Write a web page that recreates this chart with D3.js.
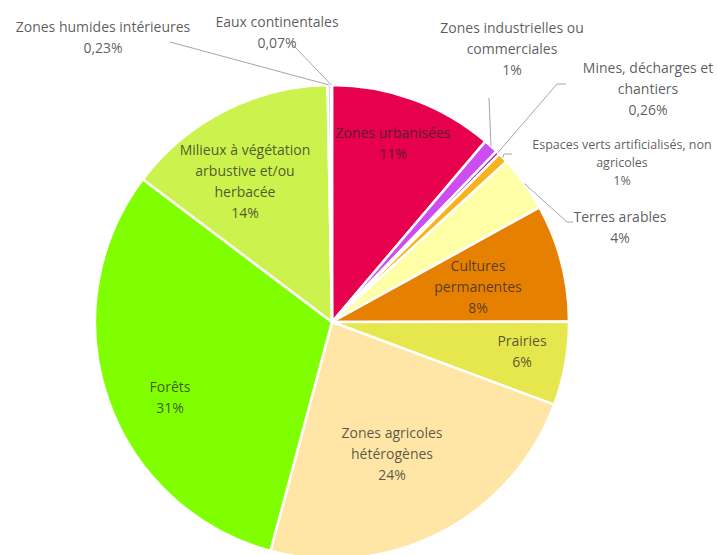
<!DOCTYPE html>
<html>
<head>
<meta charset="utf-8">
<script src="https://cdn.jsdelivr.net/npm/d3@7"></script>
<style>
  body { margin: 0; background: #fff; }
  text { font-family: "Open Sans", Lato, sans-serif; }
</style>
</head>
<body>
<div id="chart"></div>
<script>
// land cover shares, clockwise from 12 o'clock
const categories = [
  'Zones urbanisées', 'Zones industrielles ou commerciales', 'Mines, décharges et chantiers',
  'Espaces verts artificialisés, non agricoles', 'Terres arables', 'Cultures permanentes',
  'Prairies', 'Zones agricoles hétérogènes', 'Forêts',
  'Milieux à végétation arbustive et/ou herbacée', 'Zones humides intérieures', 'Eaux continentales'
];
const values = [11.2, 1.0, 0.26, 0.7, 3.8, 8.0, 5.7, 23.5, 31.1, 14.4, 0.23, 0.07];
const pctLabels = ['11%', '1%', '0,26%', '1%', '4%', '8%', '6%', '24%', '31%', '14%', '0,23%', '0,07%'];
const colors = [
  '#e6004d', '#cc4df2', '#a600cc', '#f9b21b', '#ffffa8', '#e68000',
  '#e6e64d', '#ffe6a6', '#80ff00', '#ccf24d', '#a6a6ff', '#00ccf2'
];
const nameLines = [
  ['Zones urbanisées'], ['Zones industrielles ou', 'commerciales'], ['Mines, décharges et', 'chantiers'],
  ['Espaces verts artificialisés, non', 'agricoles'], ['Terres arables'], ['Cultures', 'permanentes'],
  ['Prairies'], ['Zones agricoles', 'hétérogènes'], ['Forêts'],
  ['Milieux à végétation', 'arbustive et/ou', 'herbacée'], ['Zones humides intérieures'], ['Eaux continentales']
];

const width = 717, height = 555;
const cx = 332, cy = 322, radius = 237;

// label layout: centre of first text line, font size, line step, leader bend points
const labelPos = {
  0: { x: 393, y: 133 },
  1: { x: 512, y: 28, pts: [[489, 98]] },
  2: { x: 648, y: 68, pts: [[557, 84], [566, 84]] },
  3: { x: 622, y: 145, size: 12.5, step: 18, pts: [[504, 154], [512, 154]] },
  4: { x: 620, y: 217, pts: [[567, 222], [573, 222]] },
  5: { x: 478, y: 266 },
  6: { x: 522, y: 341 },
  7: { x: 392, y: 433 },
  8: { x: 170, y: 387 },
  9: { x: 245, y: 150 },
  10: { x: 103, y: 27, pts: [[170, 42]] },
  11: { x: 277, y: 22, pts: [[293, 45]] }
};

const data = categories.map((c, i) => ({ name: c, value: values[i], pct: pctLabels[i], color: colors[i], lines: nameLines[i], i }));

const svg = d3.select('#chart').append('svg')
  .attr('width', width)
  .attr('height', height);

const pie = d3.pie().sort(null).value(d => d.value);
const arcs = pie(data);
const arc = d3.arc().innerRadius(0).outerRadius(radius);

const g = svg.append('g').attr('transform', 'translate(' + cx + ',' + cy + ')');

g.selectAll('path')
  .data(arcs)
  .enter()
  .append('path')
  .attr('d', arc)
  .attr('fill', d => d.data.color)
  .attr('stroke', '#fff')
  .attr('stroke-width', 2.5)
  .attr('stroke-linejoin', 'round');

const polar = (a, r) => [cx + r * Math.sin(a), cy - r * Math.cos(a)];

// leader lines
arcs.filter(d => labelPos[d.data.i].pts).forEach(d => {
  const mid = (d.startAngle + d.endAngle) / 2;
  const pts = [polar(mid, radius)].concat(labelPos[d.data.i].pts);
  svg.append('path')
    .attr('d', d3.line()(pts))
    .attr('fill', 'none')
    .attr('stroke', '#a6a6a6')
    .attr('stroke-width', 1);
});

// labels
arcs.forEach(d => {
  const p = labelPos[d.data.i];
  const lines = d.data.lines.concat([d.data.pct]);
  const t = svg.append('text')
    .attr('text-anchor', 'middle')
    .attr('font-size', p.size || 14)
    .attr('fill', '#262626')
    .attr('fill-opacity', 0.75);
  lines.forEach((s, k) => {
    t.append('tspan')
      .attr('x', p.x)
      .attr('y', p.y + k * (p.step || 21))
      .attr('dy', '0.35em')
      .text(s);
  });
});
</script>
</body>
</html>
